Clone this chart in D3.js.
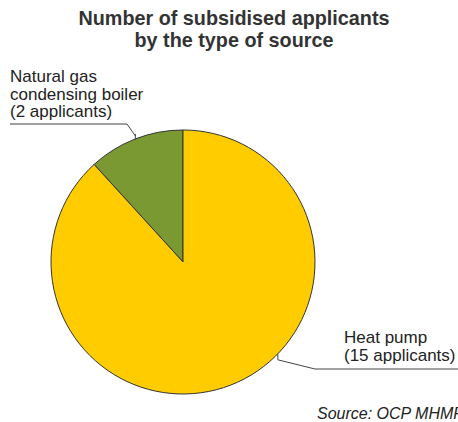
<!DOCTYPE html>
<html><head><meta charset="utf-8">
<script src="https://cdn.jsdelivr.net/npm/d3@7"></script>
<style>body{margin:0;background:#fff;}svg{display:block;font-family:"Liberation Sans",Arial,sans-serif;}</style>
</head><body>
<svg id="c" width="458" height="422"></svg>
<script>
const categories = ["Natural gas condensing boiler", "Heat pump"];
const values = [2, 15];
const labelLines = [["Natural gas", "condensing boiler", "(2 applicants)"], ["Heat pump", "(15 applicants)"]];
const colors = ["#7A9933", "#FFCC00"];
const titleLines = ["Number of subsidised applicants", "by the type of source"];
const sourceText = "Source: OCP MHMP";

const svg = d3.select("#c");
const cx = 183, cy = 262, r = 132;

svg.selectAll("text.title").data(titleLines).join("text")
  .attr("class","title").attr("x", 234).attr("y", (d,i)=>25 + i*22)
  .attr("text-anchor","middle").attr("font-weight","bold").attr("font-size","19.8px")
  .attr("fill","#333").text(d=>d);

const total = d3.sum(values);
const pie = d3.pie().sort(null).value(d=>d)
  .startAngle(-2*Math.PI*values[0]/total).endAngle(2*Math.PI - 2*Math.PI*values[0]/total);
const arcs = pie(values);
const arc = d3.arc().innerRadius(0).outerRadius(r);
const g = svg.append("g").attr("transform",`translate(${cx},${cy})`);
g.selectAll("path").data(arcs).join("path")
  .attr("d", arc).attr("fill",(d,i)=>colors[i])
  .attr("stroke","#333").attr("stroke-width",1);

// leader lines
const lineColor = "#444";
const gasA = (arcs[0].startAngle + arcs[0].endAngle)/2;
const gp = [Math.sin(gasA)*r, -Math.cos(gasA)*r];
svg.append("path")
  .attr("d", `M10,124 H127 L${cx+gp[0]},${cy+gp[1]-3} M${cx+gp[0]},${cy+gp[1]-5} V${cy+gp[1]+1}`)
  .attr("fill","none").attr("stroke",lineColor).attr("stroke-width",1);
const hpA = 2.34;
const hp = [Math.sin(hpA)*r, -Math.cos(hpA)*r];
svg.append("path")
  .attr("d", `M${cx+hp[0]},${cy+hp[1]} V${cy+hp[1]+6} L315,369 H458`)
  .attr("fill","none").attr("stroke",lineColor).attr("stroke-width",1);

svg.selectAll("text.gas").data(labelLines[0]).join("text")
  .attr("class","gas").attr("x",10).attr("y",(d,i)=>82+i*17.5)
  .attr("font-size","17px").attr("fill","#222").text(d=>d);
svg.selectAll("text.hp").data(labelLines[1]).join("text")
  .attr("class","hp").attr("x",344).attr("y",(d,i)=>343+i*17.5)
  .attr("font-size","17px").attr("fill","#222").text(d=>d);

svg.append("text").attr("x",317).attr("y",419).attr("font-size","16px")
  .attr("font-style","italic").attr("fill","#222").text(sourceText);
</script>
</body></html>
